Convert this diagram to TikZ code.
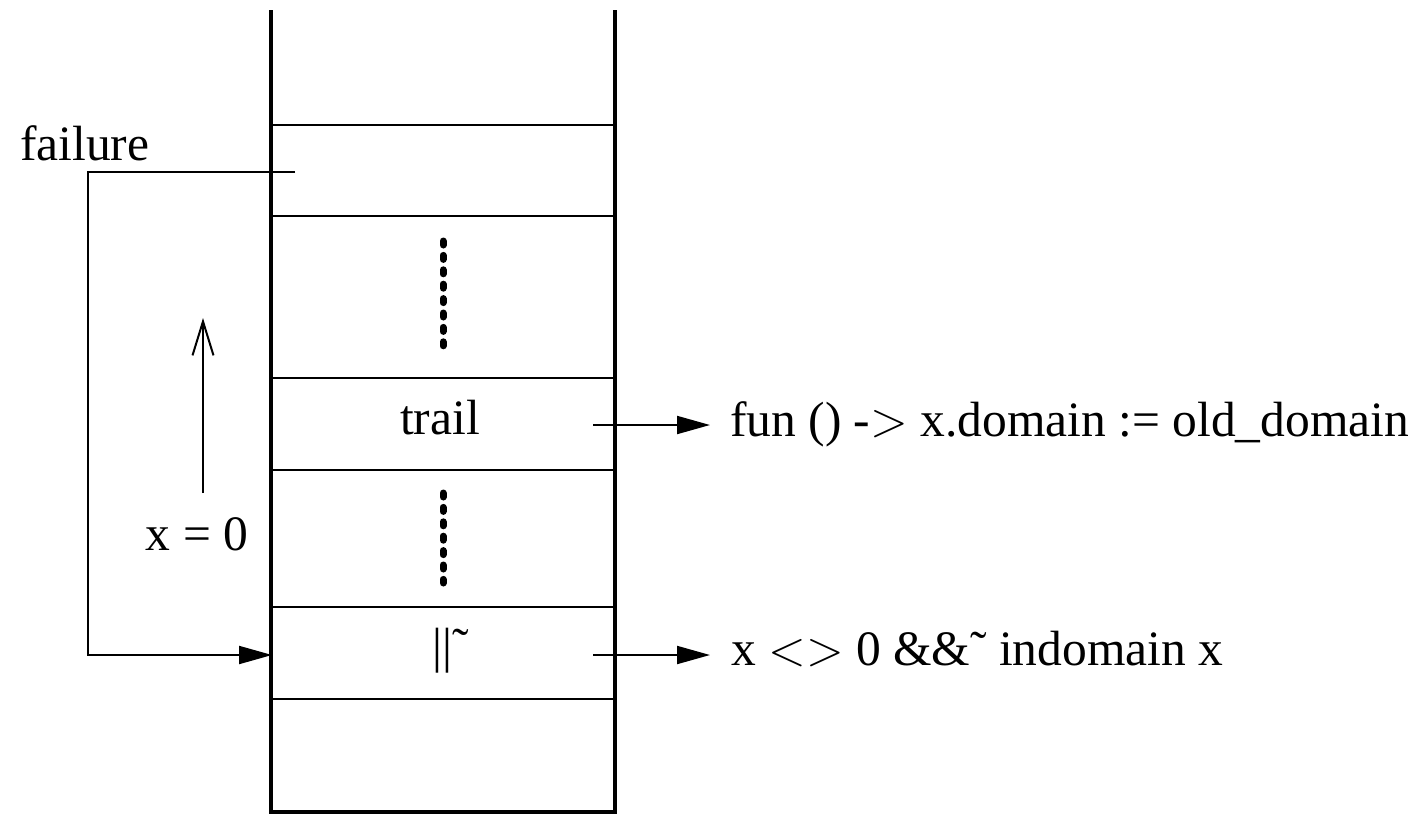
\documentclass[tikz,border=0pt]{standalone}
\usepackage{fix-cm}
\usepackage{fontspec}
\setmainfont{Liberation Serif}
\usetikzlibrary{arrows.meta}
\begin{document}
\begin{tikzpicture}[x=1pt,y=-1pt,
  thin line/.style={line width=2pt},
  thick line/.style={line width=4.5pt},
  label text/.style={font=\fontsize{49.5}{56}\selectfont, inner sep=0pt},
  filled tip/.style={-{Triangle[length=33pt,width=18pt]}},
  open tip/.style={-{Straight Barb[length=34pt,width=21pt,line width=2pt]}},
  dots/.style={line width=7pt, line cap=round, dash pattern=on 4pt off 10.4pt}]
\useasboundingbox (0,0) rectangle (1422,815);
% stack
\coordinate (tl) at (271,10);
\coordinate (bl) at (271,812);
\coordinate (br) at (615,812);
\coordinate (tr) at (615,10);
\draw[thick line, line join=miter] (tl) -- (bl) -- (br) -- (tr);
\foreach \y in {125,216,378,470,607,699}
  \draw[thin line] (271,\y) -- (615,\y);
% dotted lines
\coordinate (d1a) at (443,241);
\coordinate (d1b) at (443,356);
\coordinate (d2a) at (443,493);
\coordinate (d2b) at (443,583);
\draw[dots] (d1a) -- (d1b);
\draw[dots] (d2a) -- (d2b);
% texts in stack
\node[label text] (trail) at (440,418) {trail};
\node[label text] (or) at (451,651) {||˜};
% failure
\node[label text, anchor=base west] (failure) at (20,160) {failure};
\coordinate (f1) at (295,172);
\coordinate (f2) at (88,172);
\coordinate (f3) at (88,655);
\coordinate (f4) at (272,655);
\draw[thin line, filled tip] (f1) -- (f2) -- (f3) -- (f4);
% up arrow
\coordinate (u1) at (203,493);
\coordinate (u2) at (203,318);
\draw[thin line, open tip] (u1) -- (u2);
\node[label text] (x0) at (197,534) {x = 0};
% right arrows
\coordinate (a1) at (593,425);
\coordinate (a2) at (710,425);
\draw[thin line, filled tip] (a1) -- (a2);
\node[label text, anchor=base west] (fun) at (730,436) {fun () -$>$ x.domain := old\_domain};
\coordinate (b1) at (593,655);
\coordinate (b2) at (710,655);
\draw[thin line, filled tip] (b1) -- (b2);
\node[label text, anchor=base west] (cond) at (731,665) {x $<>$ 0 \&\&˜ indomain x};
\end{tikzpicture}
\end{document}
